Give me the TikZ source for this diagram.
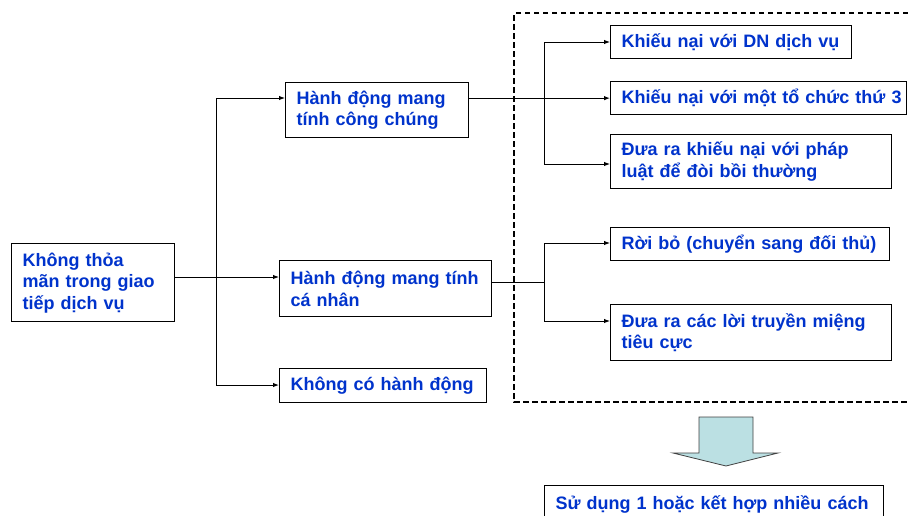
\documentclass[tikz,border=0pt]{standalone}
\usepackage{fontspec}
\setmainfont{Liberation Sans}
\usetikzlibrary{arrows.meta}
\definecolor{txtblue}{HTML}{0033CC}
\definecolor{arrowfill}{HTML}{BBE0E3}
\begin{document}
\begin{tikzpicture}[x=1pt,y=-1pt,
  box/.style={draw=black, line width=1.3pt, fill=white, anchor=north west,
    inner xsep=11pt, inner ysep=2pt, align=left, text=txtblue,
    font=\fontsize{18}{21.5}\selectfont\bfseries},
  conn/.style={draw=black, line width=1pt},
  arr/.style={conn, -{Latex[length=6pt,width=4.5pt]}},
  frame/.style={draw=black, line width=1.1pt, dash pattern=on 5.5pt off 3.5pt}]
\useasboundingbox (0,0) rectangle (908,515);

% boxes: text width = box width - 22, minimum height = box height
\node[box, text width=141pt, minimum height=78pt] (root) at (11,243) {Không thỏa\\mãn trong giao\\tiếp dịch vụ};
\node[box, text width=161pt, minimum height=55pt] (pub) at (285,82) {Hành động mang\\tính công chúng};
\node[box, text width=190pt, minimum height=56pt] (ind) at (279,260) {Hành động mang tính\\cá nhân};
\node[box, text width=185pt, minimum height=34pt] (none) at (279,368) {Không có hành động};

\node[box, text width=219pt, minimum height=33pt] (c1) at (610,25) {Khiếu nại với DN dịch vụ};
% wide text: the right margin is narrower than the left one
\node[box, inner xsep=0pt, text width=296pt, minimum height=33pt] (c2) at (610,81) {\hspace*{11pt}Khiếu nại với một tổ chức thứ 3};
\node[box, text width=259pt, minimum height=54pt] (c3) at (610,134) {Đưa ra khiếu nại với pháp\\luật để đòi bồi thường};
\node[box, text width=257pt, minimum height=33pt] (r1) at (610,227) {Rời bỏ (chuyển sang đối thủ)};
\node[box, text width=259pt, minimum height=56pt] (r2) at (610,304) {Đưa ra các lời truyền miệng\\tiêu cực};

\node[box, text width=317pt, minimum height=38pt] (res) at (544,485) {Sử dụng 1 hoặc kết hợp nhiều cách};

% dashed frame around the individual reactions
\draw[frame] (908,13) -- (514,13) -- (514,402) -- (908,402);

% first level branches
\coordinate (ry) at (0,277);
\coordinate (sa) at (216,98);
\coordinate (sb) at (216,385);
\draw[conn] (sa) -- (sb);
\draw[arr] (root.east |- ry) -- (ind.west |- ry);
\draw[arr] (sa) -- (pub.west |- sa);
\draw[arr] (sb) -- (none.west |- sb);

% public actions
\coordinate (pa) at (544,42);
\coordinate (pb) at (544,164);
\draw[conn] (pa) -- (pb);
\draw[arr] (pub.east |- c2.west) -- (c2.west);
\draw[arr] (pa) -- (c1.west |- pa);
\draw[arr] (pb) -- (c3.west |- pb);

% private actions
\coordinate (iy) at (0,282);
\coordinate (qa) at (544,243);
\coordinate (qb) at (544,321);
\draw[conn] (qa) -- (qb);
\draw[conn] (ind.east |- iy) -- (qa |- iy);
\draw[arr] (qa) -- (r1.west |- qa);
\draw[arr] (qb) -- (r2.west |- qb);

% block arrow towards the conclusion
\draw[draw=black!75, line width=0.8pt, fill=arrowfill]
  (699,417) -- (753,417) -- (753,453) -- (778,453) -- (726,466)
  -- (673,453) -- (699,453) -- cycle;
\end{tikzpicture}
\end{document}
